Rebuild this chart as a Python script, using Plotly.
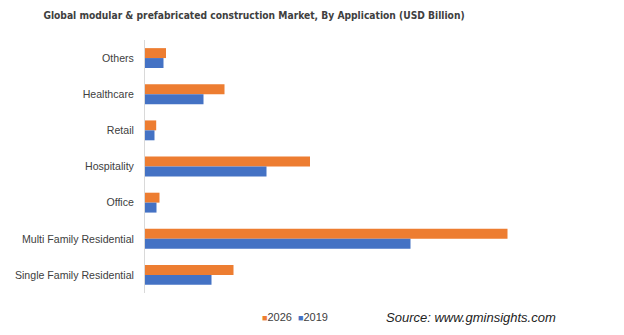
import plotly.graph_objects as go

categories = ["Others", "Healthcare", "Retail", "Hospitality", "Office",
              "Multi Family Residential", "Single Family Residential"]
values_2026 = [2.1, 7.95, 1.12, 16.5, 1.45, 36.25, 8.85]
values_2019 = [1.85, 5.85, 0.95, 12.15, 1.15, 26.55, 6.65]
series_names = ["2026", "2019"]
colors = ["#ED7D31", "#4472C4"]

fig = go.Figure()
for name, vals, col in zip(series_names, [values_2026, values_2019], colors):
    fig.add_trace(go.Bar(y=categories, x=vals, orientation="h", name=name,
                         marker=dict(color=col, line=dict(width=0)),
                         showlegend=False))

legend_text = "&nbsp;&nbsp;".join(
    f"<span style='color:{c};font-size:9px'>■</span>{n}"
    for n, c in zip(series_names, colors)
)

fig.update_layout(
    width=624, height=335,
    margin=dict(l=145, r=79, t=40, b=42),
    paper_bgcolor="white", plot_bgcolor="white",
    barmode="group", bargap=0.45, bargroupgap=0,
    title=dict(text="<b>Global modular &amp; prefabricated construction Market, By Application (USD Billion)</b>",
               x=254/624, xanchor="center", y=1-15/335, yanchor="middle",
               font=dict(family="DejaVu Sans Condensed, Roboto", size=10.2, color="#404040")),
    xaxis=dict(range=[0, 40], visible=False, showgrid=False, zeroline=False),
    yaxis=dict(autorange="reversed", showgrid=False, zeroline=False,
               showline=True, linecolor="#D9D9D9", linewidth=1,
               ticks="", ticklabelstandoff=8,
               tickfont=dict(family="Liberation Sans", size=10.6, color="#404040")),
    showlegend=False,
    annotations=[
        dict(text=legend_text, xref="paper", yref="paper",
             x=(260-145)/400, xanchor="left", y=-(317-293)/253, yanchor="middle",
             showarrow=False,
             font=dict(family="Liberation Sans", size=11, color="#404040")),
        dict(text="<i>Source: www.gminsights.com</i>", xref="paper", yref="paper",
             x=(384-145)/400, xanchor="left", y=-(317-293)/253, yanchor="middle",
             showarrow=False,
             font=dict(family="Liberation Sans", size=13, color="#222222"))],
)
fig.write_html("out.html")
